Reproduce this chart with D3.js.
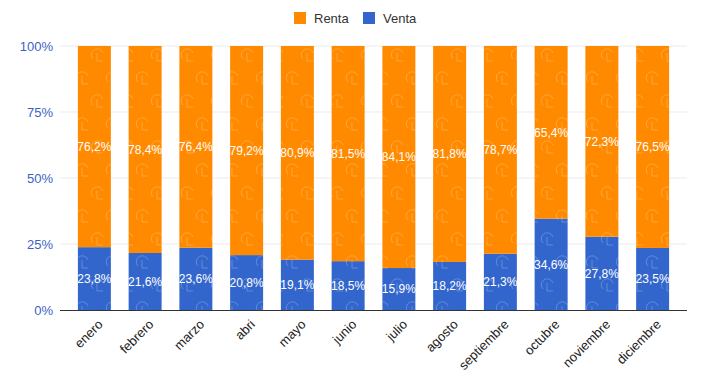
<!DOCTYPE html>
<html><head><meta charset="utf-8">
<script src="https://cdn.jsdelivr.net/npm/d3@7"></script>
<style>body{margin:0;background:#fff;}svg{display:block;font-family:Arial,"Liberation Sans",sans-serif;}</style>
</head><body><svg id="c" width="708" height="386"></svg>
<script>
const months = ["enero","febrero","marzo","abri","mayo","junio","julio","agosto","septiembre","octubre","noviembre","diciembre"];
const venta = [23.8,21.6,23.6,20.8,19.1,18.5,15.9,18.2,21.3,34.6,27.8,23.5];
const renta = [76.2,78.4,76.4,79.2,80.9,81.5,84.1,81.8,78.7,65.4,72.3,76.5];
const yTicks = [0,25,50,75,100];
const seriesNames = ["Renta","Venta"];
const colors = {Renta:"#ff8a00", Venta:"#3366cc"};

const svg = d3.select("#c");
const x = d3.scaleBand().domain(months).range([69,678]).paddingInner(0.35).paddingOuter(0.175);
const y = d3.scaleLinear().domain([0,100]).range([310,46]);
const fmt = v => v.toFixed(1).replace(".",",") + "%";

// watermark pattern
const defs = svg.append("defs");
const pat = defs.append("pattern").attr("id","wm").attr("patternUnits","userSpaceOnUse")
  .attr("width",30).attr("height",46);
function logo(g,cx,cy){
  g.append("path").attr("d",`M${cx-5},${cy+3} A6,6 0 1 1 ${cx+5},${cy-3}`)
   .attr("fill","none").attr("stroke","#fff").attr("stroke-opacity",0.22).attr("stroke-width",1);
  g.append("path").attr("d",`M${cx-1},${cy-3} V${cy+5} H${cx+5}`)
   .attr("fill","none").attr("stroke","#fff").attr("stroke-opacity",0.22).attr("stroke-width",1);
}
logo(pat,8,10); logo(pat,23,33);

// gridlines
svg.append("g").selectAll("line").data(yTicks.filter(d=>d>0)).join("line")
  .attr("x1",60).attr("x2",687).attr("y1",d=>y(d)).attr("y2",d=>y(d))
  .attr("stroke","#ebebeb").attr("stroke-width",1);

// y labels
svg.append("g").selectAll("text").data(yTicks).join("text")
  .attr("x",53).attr("y",d=>y(d)).attr("dy","0.35em").attr("text-anchor","end")
  .attr("fill","#3c5fc4").attr("font-size",13).text(d=>d+"%");

const data = months.map((m,i)=>({m, Venta:venta[i], Renta:renta[i]}));
const stack = d3.stack().keys(["Venta","Renta"]).offset(d3.stackOffsetExpand)(data);

const g = svg.append("g");
stack.forEach(layer=>{
  const key = layer.key;
  g.append("g").selectAll("rect").data(layer).join("rect")
    .attr("x",d=>x(d.data.m)).attr("width",x.bandwidth())
    .attr("y",d=>y(d[1]*100)).attr("height",d=>y(d[0]*100)-y(d[1]*100))
    .attr("fill",colors[key]);
  g.append("g").selectAll("rect").data(layer).join("rect")
    .attr("x",d=>x(d.data.m)).attr("width",x.bandwidth())
    .attr("y",d=>y(d[1]*100)).attr("height",d=>y(d[0]*100)-y(d[1]*100))
    .attr("fill","url(#wm)");
  g.append("g").selectAll("text").data(layer).join("text")
    .attr("x",d=>x(d.data.m)+x.bandwidth()/2)
    .attr("y",d=>(y(d[0]*100)+y(d[1]*100))/2).attr("dy","0.35em")
    .attr("text-anchor","middle").attr("fill","#fff").attr("font-size",12)
    .text(d=>fmt(d.data[key]));
});

// baseline
svg.append("line").attr("x1",60).attr("x2",687).attr("y1",310.5).attr("y2",310.5)
  .attr("stroke","#333").attr("stroke-width",1);

// x labels
svg.append("g").selectAll("text").data(months).join("text")
  .attr("transform",d=>`translate(${x(d)+x.bandwidth()/2+6},${322}) rotate(-45)`)
  .attr("text-anchor","end").attr("dy","0.35em")
  .attr("fill","#222").attr("font-size",13).text(d=>d);

// legend
const leg = svg.append("g");
const legX = [294,363];
seriesNames.forEach((s,i)=>{
  leg.append("rect").attr("x",legX[i]).attr("y",12).attr("width",12).attr("height",12).attr("fill",colors[s]);
  leg.append("text").attr("x",legX[i]+20).attr("y",18).attr("dy","0.35em")
    .attr("fill","#333").attr("font-size",13).text(s);
});
</script></body></html>
